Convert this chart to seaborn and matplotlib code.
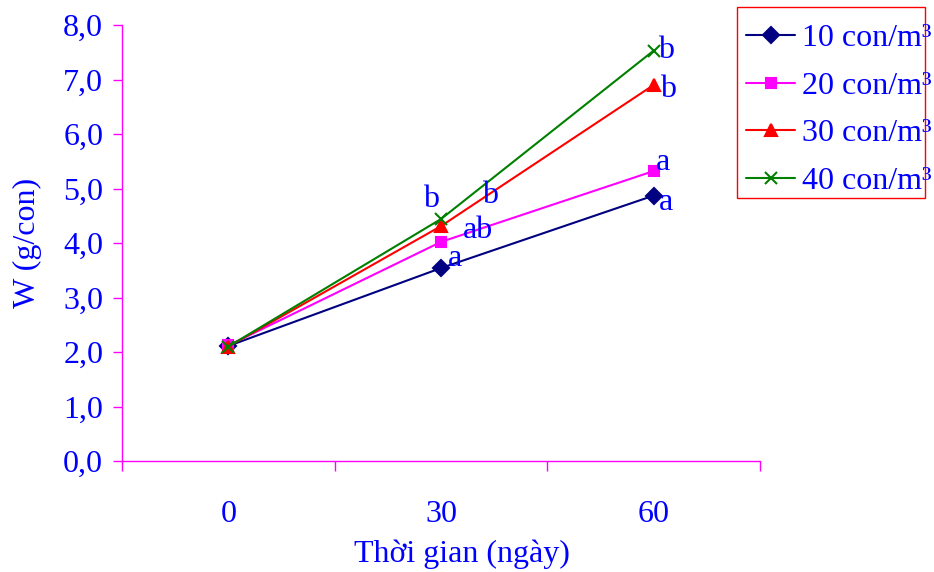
import numpy as np
import pandas as pd
import matplotlib
matplotlib.use("Agg")
import matplotlib.pyplot as plt
import seaborn as sns
from matplotlib.ticker import FixedLocator, FuncFormatter
from matplotlib.patches import Rectangle

# ---- data ----
days = ["0", "30", "60"]
groups = ["10 con/m³", "20 con/m³", "30 con/m³", "40 con/m³"]
w_10 = [2.11, 3.54, 4.87]
w_20 = [2.12, 4.02, 5.32]
w_30 = [2.10, 4.31, 6.90]
w_40 = [2.10, 4.44, 7.53]
letters_10 = ["", "a", "a"]
letters_20 = ["", "ab", "a"]
letters_30 = ["", "b", "b"]
letters_40 = ["", "b", "b"]
y_ticks = [0, 1, 2, 3, 4, 5, 6, 7, 8]

series = [w_10, w_20, w_30, w_40]
letters = [letters_10, letters_20, letters_30, letters_40]

rows = []
for g, vals in zip(groups, series):
    for i, v in enumerate(vals):
        rows.append({"pos": i, "day": days[i], "W": v, "group": g})
df = pd.DataFrame(rows)

sns.set_theme(style="white")
plt.rcParams["font.family"] = ["Liberation Serif", "DejaVu Serif"]

FS = 23
BLUE = "#0000FF"
MAG = "#FF00FF"
colors = ["#000080", "#FF00FF", "#FF0000", "#008000"]
markers = ["D", "s", "^", "x"]
msizes = [8, 7, 8, 8]

fig = plt.figure(figsize=(9.34, 5.72), dpi=100)
ax = fig.add_axes([122 / 934, 1 - 461 / 572, (760 - 122) / 934, (461 - 25) / 572])

for g, c, m, ms in zip(groups, colors, markers, msizes):
    sub = df[df["group"] == g]
    sns.lineplot(data=sub, x="pos", y="W", color=c, marker=m, markersize=ms,
                 markeredgecolor=c, markerfacecolor=c, markeredgewidth=1.5,
                 linewidth=1.5, label=g, ax=ax)

# significance letters (offsets in points)
offsets = [
    [None, (10, 7), (9, -5)],
    [None, (27, 8), (7, 6)],
    [None, (35, 22), (10, -3)],
    [None, (-7, 14), (9, 0)],
]
for vals, lets, offs in zip(series, letters, offsets):
    for i, (v, t, o) in enumerate(zip(vals, lets, offs)):
        if t:
            ax.annotate(t, xy=(i, v), xytext=o, textcoords="offset points",
                        ha="center", va="center", color=BLUE, fontsize=FS)

ax.set_xlim(-0.5, 2.5)
ax.set_ylim(0, 8)
ax.xaxis.set_major_locator(FixedLocator([0, 1, 2]))
ax.set_xticklabels(days)
ax.xaxis.set_minor_locator(FixedLocator([-0.5, 0.5, 1.5, 2.5]))
ax.tick_params(axis="x", which="major", length=0, pad=28, labelsize=FS, labelcolor=BLUE)
ax.tick_params(axis="x", which="minor", length=7, width=1, color=MAG, direction="out", bottom=True)
ax.yaxis.set_major_locator(FixedLocator(y_ticks))
ax.yaxis.set_major_formatter(FuncFormatter(lambda v, p: f"{v:.1f}".replace(".", ",")))
ax.tick_params(axis="y", which="major", length=6.5, width=1, color=MAG, direction="out",
               left=True, pad=7, labelsize=FS, labelcolor=BLUE)

for s in ["top", "right"]:
    ax.spines[s].set_visible(False)
for s in ["left", "bottom"]:
    ax.spines[s].set_color(MAG)
    ax.spines[s].set_linewidth(1)

ax.set_xlabel("Thời gian (ngày)", fontsize=FS, color=BLUE)
ax.xaxis.set_label_coords((462 - 122) / 638, -0.181)
ax.set_ylabel("W (g/con)", fontsize=FS, color=BLUE, labelpad=15)

handles, labels = ax.get_legend_handles_labels()
ax.get_legend().remove()
leg = fig.legend(handles, labels, loc="upper left",
                 bbox_to_anchor=(733 / 934, 1 - 11 / 572), bbox_transform=fig.transFigure,
                 fontsize=FS, frameon=False, handlelength=1.55,
                 handletextpad=0.2, borderpad=0.4, labelspacing=0.57, borderaxespad=0)
for t in leg.get_texts():
    t.set_color(BLUE)

# legend border box
fig.patches.append(Rectangle((737 / 934, 1 - 198 / 572), (925 - 737) / 934, (198 - 7) / 572,
                             transform=fig.transFigure, fill=False, edgecolor="#FF0000",
                             linewidth=1))

fig.savefig("out.png", dpi=100)
